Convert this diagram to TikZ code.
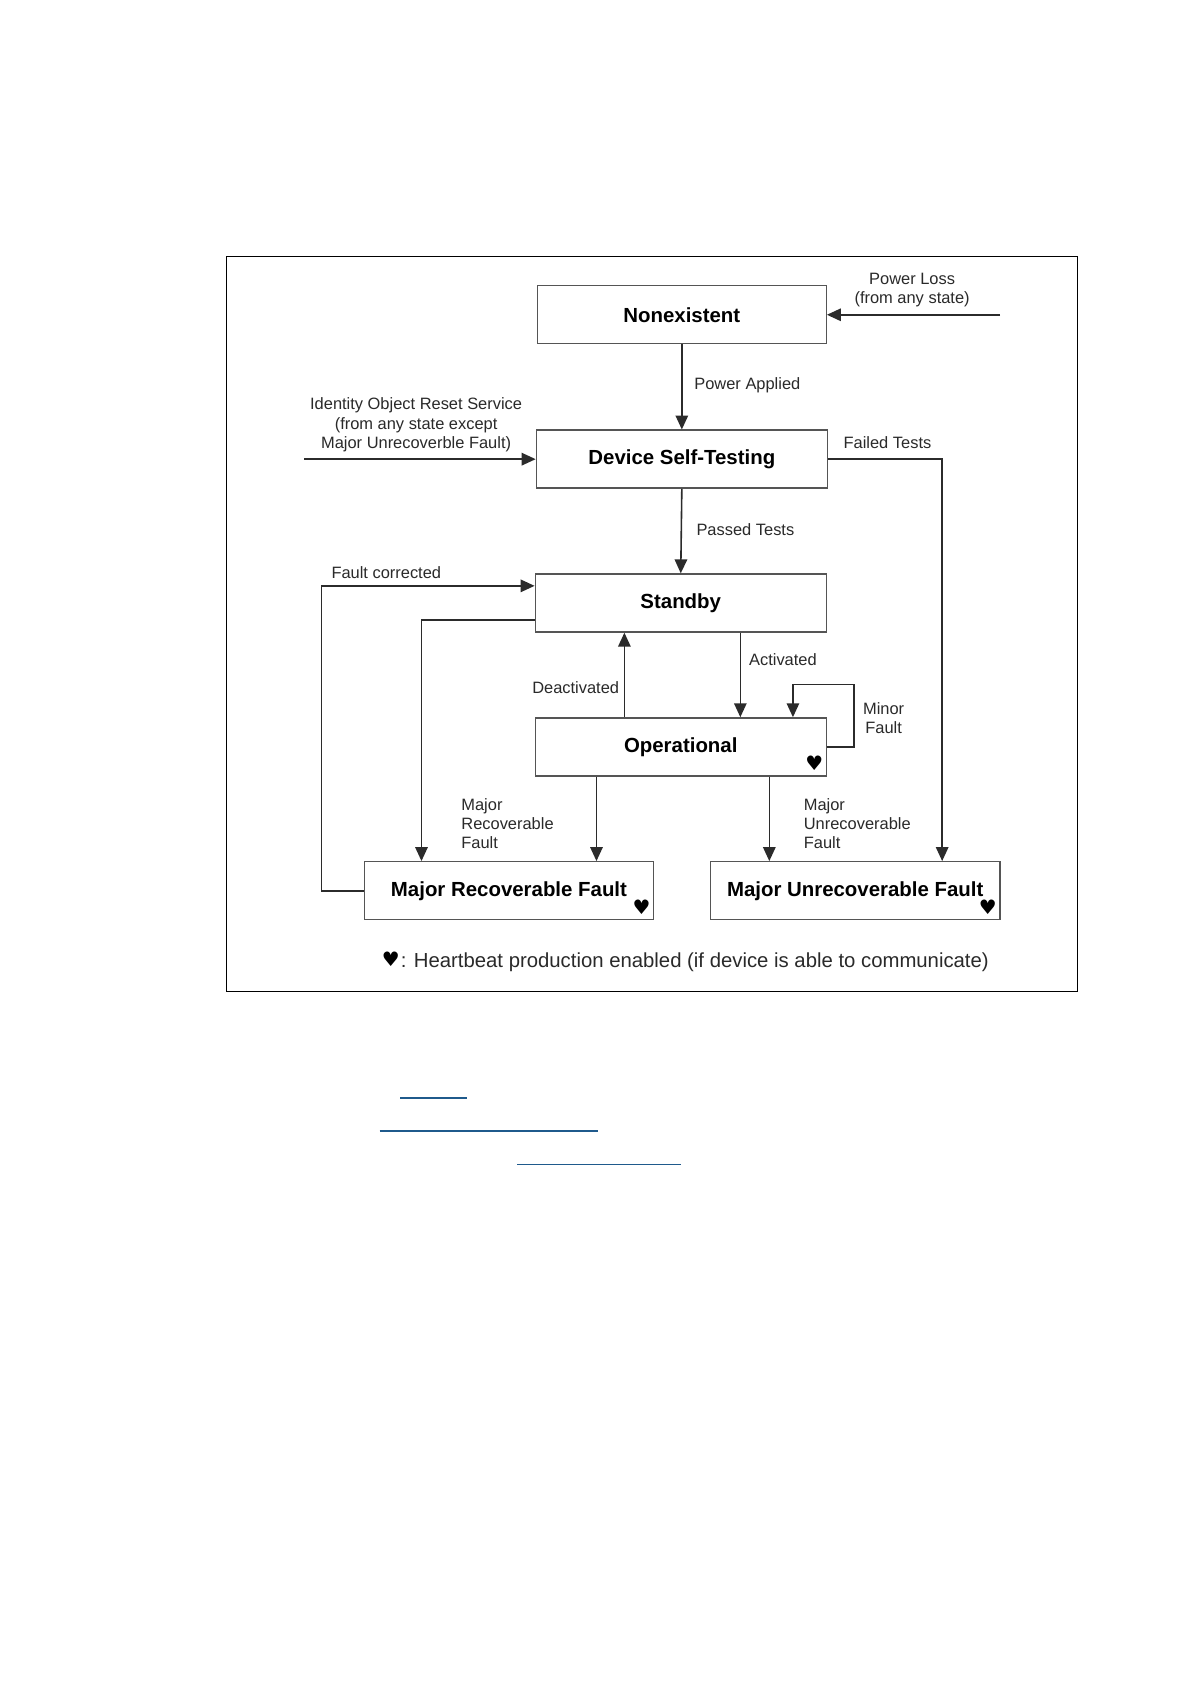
\documentclass[tikz,border=0pt]{standalone}
\usepackage{fontspec}
\setmainfont{Liberation Sans}
\newfontfamily\symfont{DejaVu Sans}
\usetikzlibrary{arrows.meta}
\def\uu{1.0779pt}
\definecolor{linec}{HTML}{2B2B2B}
\definecolor{boxc}{HTML}{555555}
\definecolor{labc}{HTML}{2A2A2A}
\definecolor{linkc}{HTML}{1F5A8C}
\tikzset{
  statebox/.style={draw=boxc,line width=1.4pt,fill=white,inner sep=0pt,minimum height=54*\uu,font=\fontsize{20.5}{24}\selectfont\bfseries,text=black},
  lab/.style={inner sep=0pt,font=\fontsize{16.5}{19.5}\selectfont,text=labc},
  conn/.style={draw=linec,line width=1.6pt,-{Triangle[width=12.5pt,length=14pt]}},
  hrt/.style={inner sep=0pt,font=\symfont\fontsize{20}{20}\selectfont,text=black},
  linkline/.style={draw=linkc,line width=1.8pt}
}
\begin{document}
\begin{tikzpicture}[x=\uu,y=-\uu]
\useasboundingbox (-0.6,-0.7) rectangle (1107.9,1567.9);
\fill[white] (-0.6,-0.7) rectangle (1107.9,1567.9);
\node[draw=black,line width=1pt,minimum width=793*\uu,minimum height=685*\uu,inner sep=0pt] (frame) at (606.5,580.5) {};
% states
\node[statebox,minimum width=269*\uu] (nonex) at (634.5,292.5) {Nonexistent};
\node[statebox,minimum width=271*\uu] (self) at (634.5,427) {Device Self-Testing};
\node[statebox,minimum width=271*\uu] (standby) at (633.5,561) {Standby};
\node[statebox,minimum width=271*\uu] (oper) at (633.5,695) {Operational};
\node[statebox,minimum width=269*\uu] (mrf) at (473.5,829) {Major Recoverable Fault};
\node[statebox,minimum width=270*\uu] (muf) at (796,829) {Major Unrecoverable Fault};
% guides
\coordinate (plfree) at (931,292.5);
\coordinate (rsfree) at (283,427);
\coordinate (ftcol) at (877,427);
\coordinate (fc) at (299,545);
\coordinate (sb) at (392,577);
\coordinate (deac) at (581,600);
\coordinate (acti) at (689,600);
\coordinate (mfa) at (795,637);
\coordinate (mfb) at (738,637);
\coordinate (mrcol) at (555,760);
\coordinate (mucol) at (716,760);
% connectors
\draw[conn] (plfree) -- (nonex.east);
\draw[conn] (nonex.south) -- (self.north);
\draw[conn] (rsfree) -- (self.west);
\draw[conn] (self.south) -- (standby.north);
\draw[conn] (self.east) -- (ftcol) -- (muf.north -| ftcol);
\draw[conn] (mrf.west) -| (fc) -- (standby.west |- fc);
\draw[conn] (standby.west |- sb) -- (sb) -- (mrf.north -| sb);
\draw[conn] (oper.north -| deac) -- (standby.south -| deac);
\draw[conn] (standby.south -| acti) -- (oper.north -| acti);
\draw[conn] (oper.east) -| (mfa) -- (mfb) -- (oper.north -| mfb);
\draw[conn] (oper.south -| mrcol) -- (mrf.north -| mrcol);
\draw[conn] (oper.south -| mucol) -- (muf.north -| mucol);
% labels
\node[lab,align=center] (t1) at (849,269.3) {Power Loss\\(from any state)};
\node[lab,anchor=west] (t2) at (646,358) {Power Applied};
\node[lab,align=center] (t3) at (387,395) {Identity Object Reset Service\\(from any state except\\Major Unrecoverble Fault)};
\node[lab,anchor=west] (t4) at (785,412) {Failed Tests};
\node[lab,anchor=west] (t5) at (648,492.5) {Passed Tests};
\node[lab,anchor=west] (t6) at (308,533) {Fault corrected};
\node[lab,anchor=west] (t7) at (697,613.5) {Activated};
\node[lab,anchor=west] (t8) at (495,640) {Deactivated};
\node[lab,align=center] (t9) at (822.5,668) {Minor\\Fault};
\node[lab,align=left,anchor=west] (t10) at (429,766.5) {Major\\Recoverable\\Fault};
\node[lab,align=left,anchor=west] (t11) at (748,766.5) {Major\\Unrecoverable\\Fault};
% hearts
\node[hrt] (h1) at (758,710) {♥};
\node[hrt] (h2) at (597,844) {♥};
\node[hrt] (h3) at (919.5,844) {♥};
\node[hrt] (h4) at (363.5,893) {♥};
\node[lab,anchor=west,font=\fontsize{20.4}{24}\selectfont] (legend) at (372.5,895.3) {: Heartbeat production enabled (if device is able to communicate)};
% link underlines
\coordinate (la) at (372,1022); \coordinate (lb) at (434,1022);
\coordinate (lc) at (353,1053); \coordinate (ld) at (556,1053);
\coordinate (le) at (481,1084); \coordinate (lf) at (634,1084);
\draw[linkline] (la) -- (lb);
\draw[linkline] (lc) -- (ld);
\draw[linkline] (le) -- (lf);
\end{tikzpicture}
\end{document}
